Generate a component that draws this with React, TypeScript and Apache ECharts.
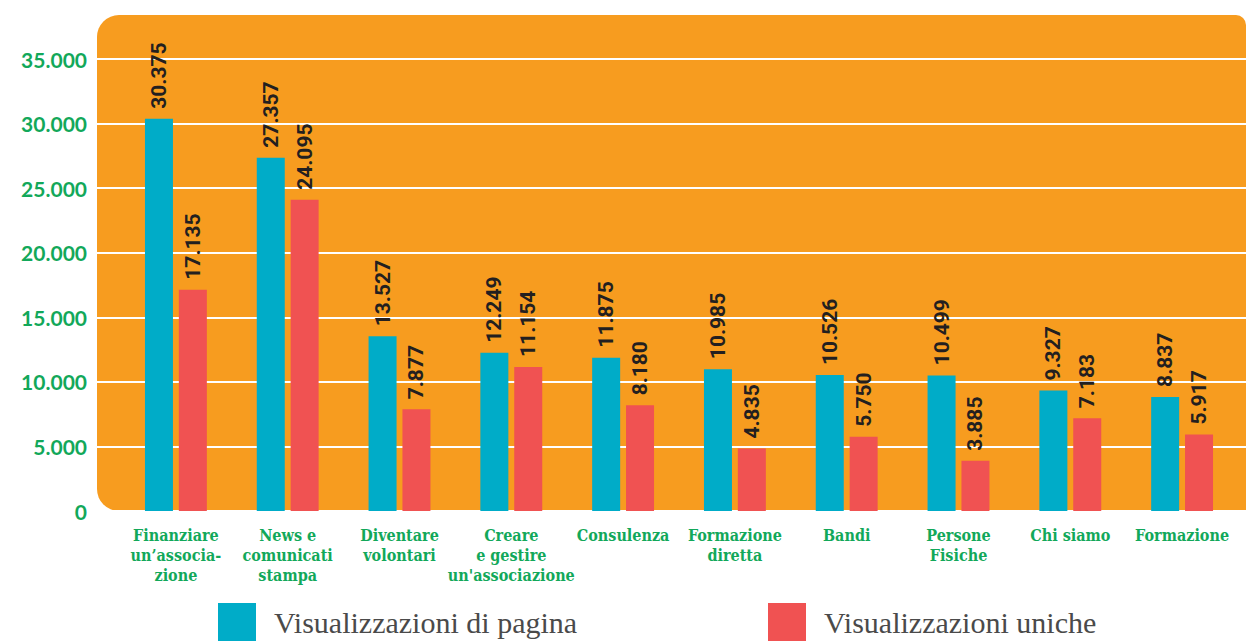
import React, { useEffect, useRef } from "react";
import * as echarts from "echarts";

const categories = [
  "Finanziare\nun’associa-\nzione",
  "News e\ncomunicati\nstampa",
  "Diventare\nvolontari",
  "Creare\ne gestire\nun'associazione",
  "Consulenza",
  "Formazione\ndiretta",
  "Bandi",
  "Persone\nFisiche",
  "Chi siamo",
  "Formazione",
];
const pageViews = [30375, 27357, 13527, 12249, 11875, 10985, 10526, 10499, 9327, 8837];
const uniqueViews = [17135, 24095, 7877, 11154, 8180, 4835, 5750, 3885, 7183, 5917];
const seriesNames = ["Visualizzazioni di pagina", "Visualizzazioni uniche"];

const CYAN = "#00acc8";
const RED = "#f05252";
const ORANGE = "#f79c1f";
const GREEN = "#12a85a";

const fmt = (v: number) => String(v).replace(/\B(?=(\d{3})+(?!\d))/g, ".");

export default function App() {
  const ref = useRef<HTMLDivElement>(null);
  useEffect(() => {
    const chart = echarts.init(ref.current!, undefined, { renderer: "svg" });
    const valueLabel = {
      show: true,
      position: "top",
      rotate: 90,
      align: "left",
      verticalAlign: "middle",
      distance: 10,
      color: "#231f20",
      fontFamily: "Roboto",
      fontWeight: "bold",
      fontSize: 21,
      formatter: (p: any) => fmt(p.value),
    };
    const legendText = {
      fontFamily: "Liberation Serif",
      fontSize: 30,
      color: "#4a4a4a",
      padding: [0, 0, 0, 13],
    };
    chart.setOption({
      animation: false,
      graphic: [
        {
          type: "rect",
          z: -10,
          shape: { x: 97, y: 15, width: 1149, height: 496, r: [22, 10, 0, 22] },
          style: { fill: ORANGE },
        },
      ],
      grid: [
        { left: 120, right: 8, top: 59, bottom: 131 },
        { left: 97, right: 0, top: 59, bottom: 131 },
      ],
      legend: [
        {
          data: [seriesNames[0]],
          left: 218,
          top: 603,
          padding: 0,
          itemWidth: 38,
          itemHeight: 38,
          icon: "rect",
          textStyle: legendText,
        },
        {
          data: [seriesNames[1]],
          left: 768,
          top: 603,
          padding: 0,
          itemWidth: 38,
          itemHeight: 38,
          icon: "rect",
          textStyle: legendText,
        },
      ],
      xAxis: [
        {
          type: "category",
          gridIndex: 0,
          data: categories,
          axisLine: { show: false },
          axisTick: { show: false },
          axisLabel: {
            interval: 0,
            margin: 14,
            color: GREEN,
            fontFamily: "'DejaVu Serif Condensed', 'DejaVu Serif'",
            fontWeight: "bold",
            fontSize: 16,
            lineHeight: 20,
          },
        },
        {
          type: "category",
          gridIndex: 1,
          data: categories,
          show: false,
        },
      ],
      yAxis: [
        {
          type: "value",
          gridIndex: 0,
          min: 0,
          max: 35000,
          interval: 5000,
          splitLine: { show: false },
          axisLine: { show: false },
          axisTick: { show: false },
          axisLabel: {
            margin: 33,
            color: GREEN,
            fontFamily: "Lato",
            fontWeight: "bold",
            fontSize: 21,
            formatter: (v: number) => fmt(v),
          },
        },
        {
          type: "value",
          gridIndex: 1,
          min: 0,
          max: 35000,
          interval: 5000,
          axisLine: { show: false },
          axisTick: { show: false },
          axisLabel: { show: false },
          splitLine: { show: true, lineStyle: { color: "#ffffff", width: 2 } },
        },
      ],
      series: [
        {
          name: seriesNames[0],
          type: "bar",
          xAxisIndex: 0,
          yAxisIndex: 0,
          data: pageViews,
          barWidth: 28,
          barGap: "21%",
          itemStyle: { color: CYAN },
          label: valueLabel,
        },
        {
          name: seriesNames[1],
          type: "bar",
          xAxisIndex: 0,
          yAxisIndex: 0,
          data: uniqueViews,
          barWidth: 28,
          barGap: "21%",
          itemStyle: { color: RED },
          label: valueLabel,
        },
      ],
    });
    return () => chart.dispose();
  }, []);
  return (
    <div
      ref={ref}
      style={{ position: "fixed", left: 0, top: 0, width: 1246, height: 642, background: "#fff" }}
    />
  );
}
